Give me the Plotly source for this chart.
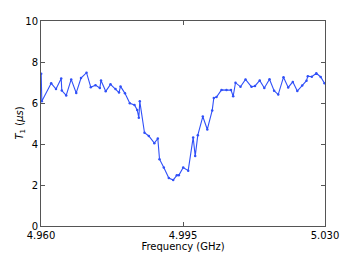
import plotly.graph_objects as go

freq_ghz = [4.96005, 4.96020, 4.96251, 4.96370, 4.96498, 4.96513, 4.96621, 4.96744,
            4.96868, 4.96986, 4.97122, 4.97227, 4.97343, 4.97449, 4.97479, 4.97595,
            4.97713, 4.97836, 4.97923, 4.97960, 4.98070, 4.98189, 4.98305, 4.98371,
            4.98411, 4.98435, 4.98551, 4.98657, 4.98793, 4.98879, 4.98921, 4.99027,
            4.99150, 4.99258, 4.99347, 4.99396, 4.99505, 4.99628, 4.99751, 4.99801,
            4.99865, 4.99988, 5.00099, 5.00220, 5.00259, 5.00326, 5.00449, 5.00572,
            5.00683, 5.00737, 5.00794, 5.00917, 5.01041, 5.01188, 5.01275, 5.01391,
            5.01504, 5.01632, 5.01745, 5.01847, 5.01977, 5.02093, 5.02206, 5.02317,
            5.02438, 5.02544, 5.02576, 5.02675, 5.02786, 5.02894, 5.02988]
t1_us = [7.43, 6.09, 6.96, 6.68, 7.20, 6.61, 6.37, 7.15,
         6.49, 7.22, 7.48, 6.77, 6.87, 6.73, 7.10, 6.57,
         6.91, 6.68, 6.51, 6.81, 6.47, 5.99, 5.90, 5.66,
         5.28, 6.08, 4.55, 4.39, 4.04, 4.27, 3.26, 2.85,
         2.34, 2.24, 2.47, 2.47, 2.85, 2.70, 4.32, 3.41,
         4.43, 5.34, 4.71, 5.64, 6.24, 6.29, 6.64, 6.63,
         6.63, 6.33, 6.99, 6.79, 7.15, 6.79, 6.83, 7.10,
         6.73, 7.16, 6.60, 6.41, 7.26, 6.76, 7.03, 6.58,
         6.85, 7.09, 7.31, 7.28, 7.45, 7.27, 6.96]

x_ticks = [4.960, 4.995, 5.030]
x_tick_labels = ["4.960", "4.995", "5.030"]
y_ticks = [0, 2, 4, 6, 8, 10]
y_tick_labels = ["0", "2", "4", "6", "8", "10"]

fig = go.Figure()
fig.add_trace(go.Scatter(
    x=freq_ghz, y=t1_us, mode="lines+markers",
    line=dict(color="#3050f8", width=1.1),
    marker=dict(color="#3050f8", size=2.5),
    showlegend=False,
))

axis_common = dict(
    showgrid=False, zeroline=False, showline=True, linecolor="#555555", linewidth=1,
    mirror="allticks", ticks="inside", ticklen=4, tickwidth=1, tickcolor="#555555",
    tickfont=dict(family="DejaVu Sans", size=10, color="black"),
)
fig.update_xaxes(range=[4.96, 5.03], tickvals=x_ticks, ticktext=x_tick_labels,
                 title=dict(text="Frequency (GHz)", standoff=1,
                            font=dict(family="DejaVu Sans", size=10, color="black")),
                 **axis_common)
fig.update_yaxes(range=[0, 10], tickvals=y_ticks, ticktext=y_tick_labels,
                 **axis_common)
fig.add_annotation(
    text="<i>T</i><sub>1</sub> (<i>μs</i>)", xref="paper", yref="paper",
    x=0, y=0.5, xanchor="center", yanchor="middle", xshift=-21, textangle=-90,
    showarrow=False, font=dict(family="DejaVu Sans", size=10, color="black"),
)
fig.update_layout(
    width=342, height=251,
    margin=dict(l=33, r=25, t=7, b=33),
    paper_bgcolor="white", plot_bgcolor="white",
    font=dict(family="DejaVu Sans", size=10, color="black"),
)
fig.write_html("out.html")
